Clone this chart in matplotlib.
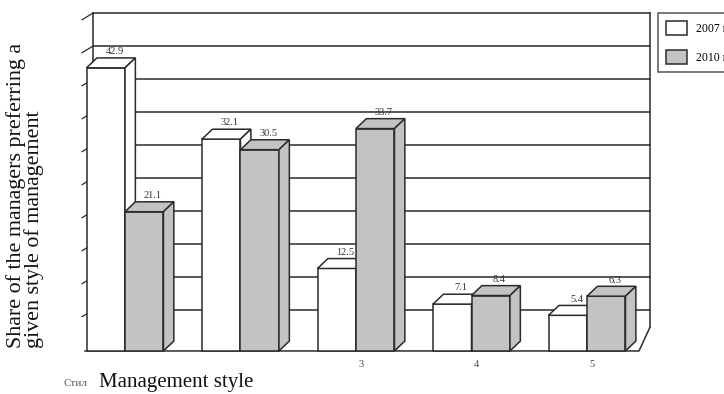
import matplotlib.pyplot as plt
from matplotlib.patches import Polygon, Patch

# data
styles = [1, 2, 3, 4, 5]
tick_labels = ['', '', '3', '4', '5']
share_2007 = [42.9, 32.1, 12.5, 7.1, 5.4]
share_2010 = [21.1, 30.5, 33.7, 8.4, 8.3]   # last bar is drawn at ~8.3 although labelled 6.3
labels_2007 = ['42.9', '32.1', '12.5', '7.1', '5.4']
labels_2010 = ['21.1', '30.5', '33.7', '8.4', '6.3']
grid_values = [5, 10, 15, 20, 25, 30, 35, 40, 45, 50]
series_names = ['2007 г.', '2010 г.']

plt.rcParams['font.family'] = ['Liberation Serif', 'DejaVu Serif']

line_c = '#2b2b2b'
gray = '#c3c3c3'
lw = 1.1

fig = plt.figure(figsize=(7.24, 3.94), dpi=100)
ax = fig.add_axes([0, 0, 1, 1])
ax.set_xlim(-0.082, 6.186)
ax.set_ylim(-6.52, 53.18)
ax.axis('off')

# 3d look: bar depth and wall geometry (data units)
w = 0.333
ddx, ddy = 0.09, 1.5
wall_dy = 1.2
wall_left, wall_right = 0.723, 5.545
front_left, front_right = 0.654, 5.45
wall_floor = 3.6

# back wall with gridlines
for v in grid_values:
    ax.plot([wall_left, wall_right], [v + wall_dy, v + wall_dy], color=line_c, lw=lw, zorder=1)
    ax.plot([front_left - 0.025, wall_left], [v + 0.2, v + wall_dy], color=line_c, lw=0.9, zorder=1)
ax.plot([wall_right, wall_right], [wall_floor, grid_values[-1] + wall_dy], color=line_c, lw=lw, zorder=1)
ax.plot([wall_left, wall_left], [grid_values[-1] + wall_dy, 30], color=line_c, lw=lw, zorder=1)
# floor
ax.plot([front_left, front_right, wall_right], [0, 0, wall_floor], color=line_c, lw=lw, zorder=1)


def bar3d(x0, heights, color, z):
    ax.bar(x0, heights, width=w, align='edge', color=color, edgecolor=line_c,
           linewidth=lw, zorder=z)
    for x, h in zip(x0, heights):
        top = [(x, h), (x + ddx, h + ddy), (x + w + ddx, h + ddy), (x + w, h)]
        side = [(x + w, 0), (x + w + ddx, ddy), (x + w + ddx, h + ddy), (x + w, h)]
        for pts in (top, side):
            ax.add_patch(Polygon(pts, closed=True, facecolor=color, edgecolor=line_c,
                                 linewidth=lw, joinstyle='miter', zorder=z))


x_2007 = [s - w for s in styles]
x_2010 = [s for s in styles]
bar3d(x_2007, share_2007, 'white', 3)
bar3d(x_2010, share_2010, gray, 4)

# value labels above each bar
for xs, hs, labs in ((x_2007, share_2007, labels_2007), (x_2010, share_2010, labels_2010)):
    for x, h, lab in zip(xs, hs, labs):
        ax.text(x + w / 2 + ddx / 2 + 0.03, h + ddy + 0.95, lab, ha='center', va='center',
                fontsize=7.5, color='#333333', zorder=6)

# category labels
for s, t in zip(styles, tick_labels):
    ax.text(s + ddx / 2, -2.1, t, ha='center', va='center', fontsize=7.5, color='#444444')

fig.text(176 / 724, 1 - 382 / 394, 'Management style', ha='center', va='center',
         fontsize=15, color='#111111')
fig.text(75 / 724, 1 - 384 / 394, 'Стил', ha='center', va='center',
         fontsize=8, color='#555555')
fig.text(25 / 724, 1 - 196 / 394, 'Share of the managers preferring a\ngiven style of management',
         rotation=90, ha='center', va='center', fontsize=15.8, linespacing=0.92,
         multialignment='left', color='#111111')

# legend runs off the right edge, as in the source picture
handles = [Patch(facecolor='white', edgecolor=line_c, linewidth=lw),
           Patch(facecolor=gray, edgecolor=line_c, linewidth=lw)]
leg = ax.legend(handles, series_names, loc='upper left',
                bbox_to_anchor=(658 / 724, 1 - 13 / 394), bbox_transform=fig.transFigure,
                fontsize=8.5, frameon=True, fancybox=False, borderaxespad=0,
                handlelength=1.8, handleheight=1.45, handletextpad=0.75,
                labelspacing=1.3, borderpad=0.65)
leg.get_frame().set_edgecolor(line_c)
leg.get_frame().set_linewidth(lw)

plt.savefig('out.png', dpi=100)
